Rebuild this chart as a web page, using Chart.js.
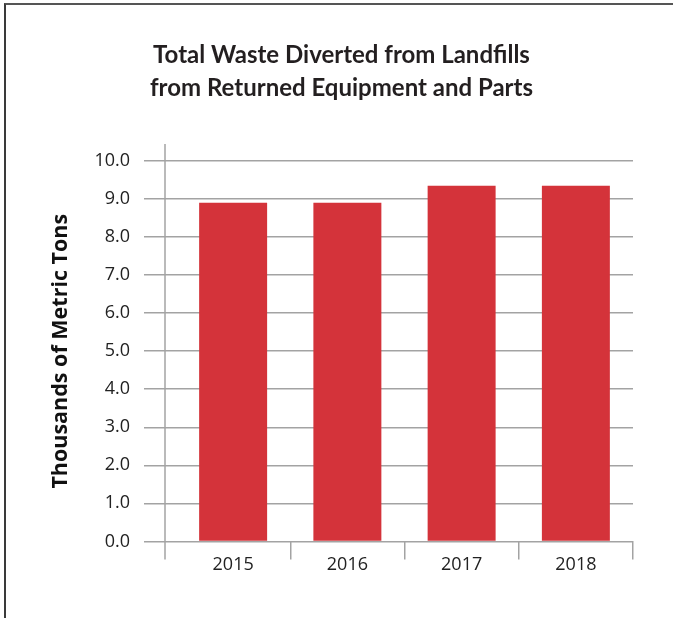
<!DOCTYPE html>
<html lang="en">
<head>
    <meta charset="UTF-8">
    <title>Total Waste Diverted from Landfills</title>
    <script src="https://cdn.jsdelivr.net/npm/chart.js"></script>
    <style>
        html, body { margin: 0; padding: 0; background: #fff; }
        #wrap { position: relative; width: 673px; height: 618px; overflow: hidden; }
        #frame {
            position: absolute; left: 4px; top: 3px; right: -4px; bottom: -4px;
            border-left: 2px solid #3a3a3a; border-top: 2px solid #555;
            pointer-events: none;
        }
    </style>
</head>
<body>
    <div id="wrap">
        <canvas id="wasteChart" width="673" height="618"></canvas>
        <div id="frame"></div>
    </div>

    <script>
        // chart data
        const years = ['2015', '2016', '2017', '2018'];
        const wasteDiverted = [8.9, 8.9, 9.35, 9.35];
        const titleLines = ['Total Waste Diverted from Landfills', 'from Returned Equipment and Parts'];
        const yAxisTitle = 'Thousands of Metric Tons';

        const gridColor = '#a3a3a3';

        // y axis line sits a little left of the first category and runs past the plot
        const axisLine = {
            id: 'axisLine',
            afterDraw(chart) {
                const { ctx, scales: { y }, chartArea } = chart;
                const x = chartArea.left - 11;
                ctx.save();
                ctx.strokeStyle = gridColor;
                ctx.lineWidth = 1.5;
                ctx.beginPath();
                ctx.moveTo(x, y.getPixelForValue(10) - 17);
                ctx.lineTo(x, y.getPixelForValue(0) + 18);
                ctx.stroke();
                ctx.restore();
            }
        };

        const ctx = document.getElementById('wasteChart').getContext('2d');
        new Chart(ctx, {
            type: 'bar',
            data: {
                labels: years,
                datasets: [{
                    data: wasteDiverted,
                    backgroundColor: '#d4333a',
                    categoryPercentage: 1.0,
                    barPercentage: 0.595
                }]
            },
            options: {
                responsive: false,
                animation: false,
                layout: { padding: { left: 50, right: 40, top: 0, bottom: 47 } },
                plugins: {
                    legend: { display: false },
                    tooltip: { enabled: false },
                    title: {
                        display: true,
                        text: titleLines,
                        color: '#231f20',
                        font: { family: 'Lato', size: 24, weight: 'bold', lineHeight: '33px' },
                        padding: { top: 39, bottom: 56 }
                    }
                },
                scales: {
                    x: {
                        border: { display: false },
                        grid: {
                            offset: true,
                            drawOnChartArea: false,
                            drawTicks: true,
                            tickLength: 18,
                            lineWidth: 1.5,
                            color: c => c.index === 0 ? 'rgba(0,0,0,0)' : gridColor
                        },
                        ticks: {
                            color: '#222',
                            padding: -5,
                            font: { family: 'Open Sans', size: 18 }
                        }
                    },
                    y: {
                        min: 0,
                        max: 10,
                        afterFit(scale) { scale.width = 126; },
                        border: { display: false },
                        grid: {
                            color: gridColor,
                            lineWidth: 1.5,
                            tickLength: 32
                        },
                        ticks: {
                            stepSize: 1,
                            color: '#222',
                            padding: 14,
                            font: { family: 'Open Sans', size: 18 },
                            callback: v => v.toFixed(1)
                        },
                        title: {
                            display: true,
                            text: yAxisTitle,
                            color: '#111',
                            padding: 0,
                            font: { family: 'Open Sans', size: 21.5, weight: 'bold', lineHeight: '22px' }
                        }
                    }
                }
            },
            plugins: [axisLine]
        });
    </script>
</body>
</html>
